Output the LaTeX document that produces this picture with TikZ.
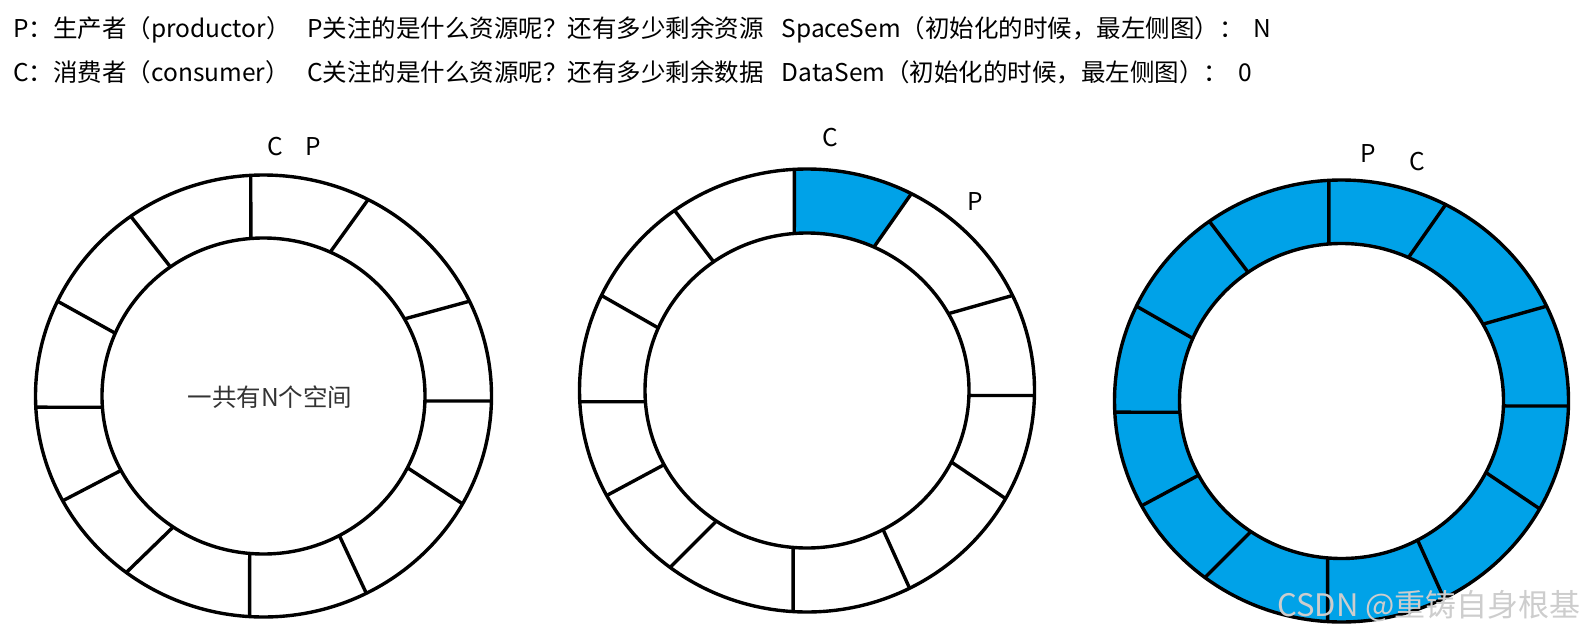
\documentclass[tikz,border=0pt]{standalone}
\usepackage{fontspec}
\setmainfont{Noto Sans CJK SC}
\definecolor{segblue}{RGB}{0,162,232}
\definecolor{wmgray}{RGB}{205,205,205}
\newcommand{\ringdraw}[6]{%
  \draw[ringline] (#1,#2) ellipse [x radius=#3pt, y radius=#4pt];
  \draw[ringline] (#1,#2) ellipse [x radius=#5pt, y radius=#6pt];
  \foreach \a/\b in {93.2/94.5,62.7/65.6,25.4/29.2,-1.3/-1.8,-29.2/-27,-63.2/-62,-93.5/-94.9,-127/-124,-151.7/-151.9,-177.1/-175.9,154.6/156.6,125.6/125.2}{
    \draw[ringline] ({#1+#5*cos(\b)},{#2-#6*sin(\b)}) -- ({#1+#3*cos(\a)},{#2-#4*sin(\a)});
  }%
}
\begin{document}
\begin{tikzpicture}[x=1pt,y=-1pt,
  ringline/.style={line width=3.4pt, black},
  txt/.style={font=\fontsize{24.5pt}{28pt}\selectfont, inner sep=0pt, text=black},
  lbl/.style={font=\fontsize{24.5pt}{28pt}\selectfont, inner sep=0pt, text=black}]
\useasboundingbox (0,0) rectangle (1585,634);
\fill[white] (0,0) rectangle (1585,634);

% header
\node[txt, anchor=west] (l1a) at (13,30) {P：生产者（productor）};
\node[txt, anchor=west] (l1b) at (307,30) {P关注的是什么资源呢？还有多少剩余资源\hspace{18pt}SpaceSem（初始化的时候，最左侧图）：\hspace{10pt}N};
\node[txt, anchor=west] (l2a) at (13,72) {C：消费者（consumer）};
\node[txt, anchor=west] (l2b) at (307,72) {C关注的是什么资源呢？还有多少剩余数据\hspace{18pt}DataSem（初始化的时候，最左侧图）：\hspace{10pt}0};

% ring 2 filled segment
\fill[segblue] plot[domain=62.7:93.2,samples=40] ({807+227.5*cos(\x)},{390.5-221.5*sin(\x)})
  -- plot[domain=94.5:65.6,samples=40] ({807+162*cos(\x)},{390.5-157.5*sin(\x)}) -- cycle;
% ring 3 filled annulus
\fill[segblue, even odd rule] (1341.5,401) ellipse [x radius=227pt, y radius=221pt]
  (1341.5,401) ellipse [x radius=162pt, y radius=157.5pt];

\ringdraw{263.5}{396}{228}{221}{161.5}{158}
\ringdraw{807}{390.5}{227.5}{221.5}{162}{157.5}
\ringdraw{1341.5}{401}{227}{221}{162}{157.5}

% labels
\node[lbl] (c1) at (275,147) {C};
\node[lbl] (p1) at (313,147) {P};
\node[lbl] (c2) at (830,138) {C};
\node[lbl] (p2) at (975,202) {P};
\node[lbl] (p3) at (1368,154) {P};
\node[lbl] (c3) at (1417,162) {C};
\node[txt, text=black!80] (mid) at (270,397) {一共有N个空间};

% watermark
\node[font=\fontsize{31pt}{34pt}\selectfont, inner sep=0pt, text=wmgray, anchor=east] (wm) at (1581,606) {CSDN @重铸自身根基};
\end{tikzpicture}
\end{document}
